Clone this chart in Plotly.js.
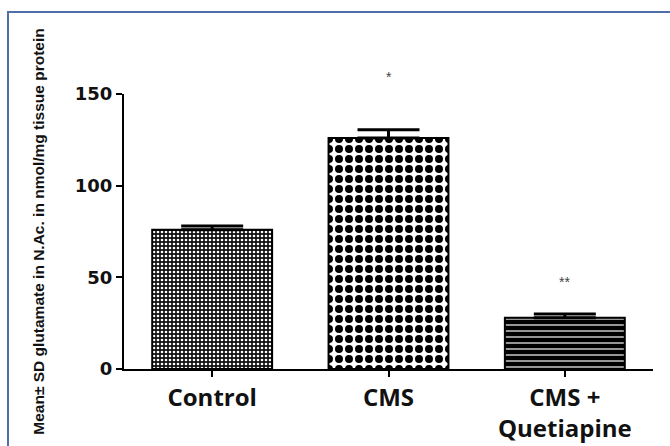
<!DOCTYPE html>
<html>
<head>
<meta charset="utf-8">
<script src="https://cdn.plot.ly/plotly-3.0.1.min.js"></script>
<style>html,body{margin:0;padding:0;background:#fff;}#chart{width:670px;height:446px;}</style>
</head>
<body>
<div id="chart"></div>
<script>
var categories = ["Control", "CMS", "CMS +<br>Quetiapine"];
var means = [76, 126, 28];
var sds = [2, 4.5, 2];
var sigLabels = ["", "*", "**"];
var sigY = [null, 159, 47.5];
var yTicks = [0, 50, 100, 150];

var patterns = [
  {shape: ".", bgcolor: "#111", fgcolor: "#fff", size: 4, solidity: 0.35, fillmode: "replace"},
  {shape: ".", bgcolor: "#fff", fgcolor: "#000", size: 10, solidity: 0.5, fillmode: "replace"},
  {shape: "-", bgcolor: "#000", fgcolor: "#c8c8c8", size: 6, solidity: 0.25, fillmode: "replace"}
];

var traces = categories.map(function (c, i) {
  return {
    type: "bar",
    x: [i],
    y: [means[i]],
    width: 0.68,
    marker: {color: "#000", line: {color: "#000", width: 2}, pattern: patterns[i]},
    error_y: {type: "data", symmetric: false, array: [sds[i]], arrayminus: [0], color: "#000", thickness: 3, width: 31},
    showlegend: false,
    hoverinfo: "none"
  };
});

var annotations = [];
sigLabels.forEach(function (s, i) {
  if (s) {
    annotations.push({x: i, y: sigY[i] / 150, xref: "x", yref: "paper", yanchor: "middle", xanchor: "center",
      text: s, showarrow: false,
      font: {family: "Liberation Sans, Arial", size: 14, color: "#444"}});
  }
});

var layout = {
  width: 670, height: 446,
  margin: {l: 124, r: 17, t: 94, b: 77},
  paper_bgcolor: "#fff", plot_bgcolor: "#fff",
  barmode: "overlay",
  xaxis: {
    range: [-0.5, 2.5], tickvals: [0, 1, 2], ticktext: categories,
    showline: true, linecolor: "#000", linewidth: 2, ticks: "outside", ticklen: 6, tickwidth: 2, tickcolor: "#000",
    showgrid: false, zeroline: false,
    tickfont: {family: "Open Sans", size: 24, color: "#111", weight: "bold"}
  },
  yaxis: {
    range: [0, 150], tickvals: yTicks,
    showline: true, linecolor: "#000", linewidth: 2, ticks: "outside", ticklen: 6, tickwidth: 2, tickcolor: "#000",
    showgrid: false, zeroline: false,
    tickfont: {family: "DejaVu Sans", size: 18, color: "#111", weight: "bold"},
    title: {text: "Mean± SD glutamate in N.Ac. in nmol/mg tissue protein", standoff: 26,
      font: {family: "Liberation Sans Narrow, Arial Narrow, Liberation Sans", size: 15.5, color: "#111", weight: "bold"}}
  },
  annotations: annotations,
  shapes: [{type: "rect", xref: "paper", yref: "paper", x0: -0.2193, x1: 1.2, y0: -0.4, y1: 1.298,
    line: {color: "#4f6fa8", width: 2}, fillcolor: "rgba(0,0,0,0)", layer: "below"}]
};

Plotly.newPlot("chart", traces, layout, {displayModeBar: false, staticPlot: true});
</script>
</body>
</html>
